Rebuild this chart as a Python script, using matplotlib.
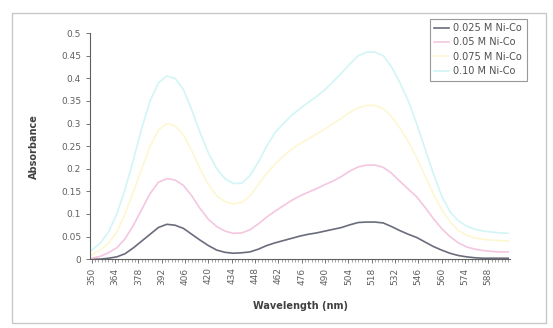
import matplotlib
matplotlib.use('Agg')
import matplotlib.pyplot as plt
from matplotlib.patches import Rectangle
from matplotlib.ticker import MultipleLocator

# wavelength grid (nm)
wavelength = list(range(350, 601, 5))

abs_0025 = [0.000, 0.000, 0.002, 0.005, 0.012, 0.025, 0.040, 0.055, 0.070, 0.077,
            0.075, 0.068, 0.055, 0.042, 0.030, 0.020, 0.015, 0.013, 0.014, 0.016,
            0.022, 0.030, 0.036, 0.041, 0.046, 0.051, 0.055, 0.058, 0.062, 0.066,
            0.070, 0.076, 0.081, 0.082, 0.082, 0.080, 0.072, 0.063, 0.055, 0.048,
            0.038, 0.028, 0.020, 0.013, 0.008, 0.005, 0.003, 0.002, 0.002, 0.002,
            0.002]
abs_005 = [0.002, 0.006, 0.014, 0.025, 0.045, 0.075, 0.110, 0.145, 0.170, 0.178,
           0.175, 0.163, 0.140, 0.112, 0.088, 0.072, 0.062, 0.057, 0.058, 0.065,
           0.078, 0.093, 0.106, 0.118, 0.130, 0.140, 0.148, 0.156, 0.165, 0.173,
           0.183, 0.195, 0.204, 0.208, 0.208, 0.203, 0.190, 0.172, 0.155, 0.138,
           0.115, 0.090, 0.068, 0.050, 0.036, 0.027, 0.022, 0.019, 0.017, 0.016,
           0.016]
abs_0075 = [0.010, 0.020, 0.035, 0.060, 0.100, 0.150, 0.200, 0.250, 0.285, 0.300,
            0.295, 0.275, 0.240, 0.200, 0.165, 0.140, 0.127, 0.122, 0.125, 0.140,
            0.165, 0.190, 0.210, 0.228, 0.243, 0.255, 0.266, 0.277, 0.288, 0.300,
            0.312, 0.325, 0.335, 0.340, 0.340, 0.333, 0.315, 0.290, 0.260, 0.225,
            0.185, 0.145, 0.110, 0.083, 0.064, 0.053, 0.047, 0.044, 0.042, 0.041,
            0.040]
abs_010 = [0.020, 0.035, 0.060, 0.100, 0.155, 0.220, 0.290, 0.350, 0.390, 0.405,
           0.400, 0.375, 0.330, 0.280, 0.235, 0.200, 0.178, 0.167, 0.168, 0.185,
           0.215, 0.250, 0.280, 0.300, 0.318, 0.333, 0.347, 0.360, 0.375, 0.393,
           0.412, 0.432, 0.450, 0.458, 0.458, 0.450, 0.425, 0.390, 0.350, 0.300,
           0.245, 0.190, 0.140, 0.105, 0.085, 0.073, 0.066, 0.062, 0.060, 0.058,
           0.057]

labels = ['0.025 M Ni-Co', '0.05 M Ni-Co', '0.075 M Ni-Co', '0.10 M Ni-Co']
colors = ['#6a6c7c', '#f4c6e0', '#fdf7d2', '#d2f5f5']
x_ticks = list(range(350, 589, 14))
y_ticks = [0, 0.05, 0.1, 0.15, 0.2, 0.25, 0.3, 0.35, 0.4, 0.45, 0.5]
#-------------------------------------
fig = plt.figure(figsize=(5.53, 3.28), dpi=100)
fig.patches.append(Rectangle((0.022, 0.015), 0.965, 0.945, transform=fig.transFigure,
                             fill=False, edgecolor='#c8c8c8', linewidth=1.0))

ax = fig.add_axes([0.163, 0.210, 0.759, 0.689])
for series, lab, col in zip([abs_0025, abs_005, abs_0075, abs_010], labels, colors):
    ax.plot(wavelength, series, color=col, linewidth=1.2, label=lab)

ax.set_xlim(349, 601)
ax.set_ylim(0, 0.5)
ax.set_xticks(x_ticks)
ax.set_xticklabels([str(v) for v in x_ticks], rotation=90)
ax.xaxis.set_minor_locator(MultipleLocator(2))
ax.set_yticks(y_ticks)
ax.set_yticklabels(['0', '0.05', '0.1', '0.15', '0.2', '0.25', '0.3', '0.35', '0.4', '0.45', '0.5'])

for side in ['top', 'right']:
    ax.spines[side].set_visible(False)
for side in ['left', 'bottom']:
    ax.spines[side].set_color('#606060')
    ax.spines[side].set_linewidth(0.8)

ax.tick_params(axis='both', which='major', labelsize=6.5, colors='#606060', length=3, width=0.6)
ax.tick_params(axis='x', which='minor', length=2, width=0.5, colors='#808080')
ax.tick_params(axis='x', which='major', direction='out', pad=3)

ax.set_xlabel('Wavelength (nm)', fontsize=7, fontweight='bold', color='#404040', labelpad=12)
ax.set_ylabel('Absorbance', fontsize=7, fontweight='bold', color='#404040', labelpad=16)

leg = fig.legend(loc='upper left', bbox_to_anchor=(0.768, 0.958), fontsize=7,
                 frameon=True, fancybox=False, handlelength=1.5, borderpad=0.45,
                 labelspacing=0.45, handletextpad=0.5)
leg.get_frame().set_edgecolor('#808080')
leg.get_frame().set_linewidth(0.8)
for txt in leg.get_texts():
    txt.set_color('#505050')

fig.savefig('out.png', dpi=100)
